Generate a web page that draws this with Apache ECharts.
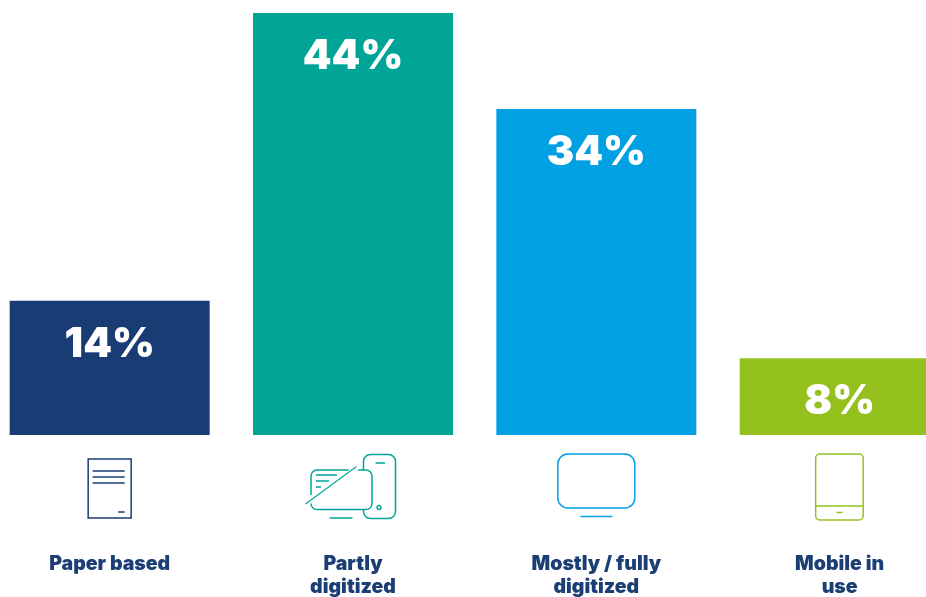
<!DOCTYPE html>
<html>
<head>
<meta charset="utf-8">
<title>Digitization levels</title>
<style>
  html, body { margin: 0; padding: 0; background: #fff; }
  #chart { width: 926px; height: 597px; overflow: hidden; }
</style>
<script src="https://cdn.jsdelivr.net/npm/echarts@6/dist/echarts.min.js"></script>
</head>
<body>
<div id="chart"></div>
<script>
const categories = ['Paper based', 'Partly\ndigitized', 'Mostly / fully\ndigitized', 'Mobile in\nuse'];
const shares = [14, 44, 34, 8];
const barColors = ['#1a3c74', '#00a597', '#00a0e3', '#95c11f'];
const textColor = '#1b3e75';
const fontFamily = 'Inter, "Noto Sans", sans-serif';

// Outline icons, in pixels relative to the bar centre and the axis baseline.
const iconParts = [
  [
    { rect: [-21.5, 24, 43, 59, 0] },
    { path: 'M-17 36H15M-17 42H15M-17 48H15M8.5 77H15' }
  ],
  [
    { path: 'M10.5 35V26.5a7 7 0 0 1 7-7H35.5a7 7 0 0 1 7 7V76.5a7 7 0 0 1-7 7H17.5a7 7 0 0 1-7-7V74' },
    { path: 'M-4.5 35H-36a6 6 0 0 0-6 6V60M-42 69V68.5a6 6 0 0 0 6 6H13a6 6 0 0 0 6-6V41a6 6 0 0 0-6-6H5' },
    { path: 'M-47.5 69L3.5 31.5', width: 1.1 },
    { path: 'M22.5 28H32M-37 40H-16M-37 46H-24M-37 52H-32M-23.5 83H-0.5' },
    { circle: [26, 72.5, 1.9] }
  ],
  [
    { rect: [-38.5, 19, 77, 54, 10] },
    { path: 'M-16 81.5H16' }
  ],
  [
    { rect: [-24, 19, 47.5, 66, 4] },
    { path: 'M-24 71H23.5M-3 77.5H3' }
  ]
];

function renderIcon(params, api) {
  const index = api.value(0);
  const origin = api.coord([index, 0]);
  const stroke = barColors[index];
  const children = iconParts[index].map(function (part) {
    const style = { fill: null, stroke: stroke, lineWidth: part.width || 1.5 };
    if (part.rect) {
      const r = part.rect;
      return { type: 'rect', shape: { x: r[0], y: r[1], width: r[2], height: r[3], r: r[4] }, style: style };
    }
    if (part.circle) {
      const c = part.circle;
      return { type: 'circle', shape: { cx: c[0], cy: c[1], r: c[2] }, style: style };
    }
    return { type: 'path', shape: { pathData: part.path }, style: style };
  });
  return { type: 'group', x: origin[0], y: origin[1], children: children };
}

const chart = echarts.init(document.getElementById('chart'), null, { renderer: 'canvas' });
chart.setOption({
  animation: false,
  backgroundColor: '#ffffff',
  grid: { left: -12, top: 13, width: 973.33, height: 422, containLabel: false, outerBoundsMode: 'none' },
  xAxis: {
    type: 'category',
    data: categories,
    axisLine: { show: false },
    axisTick: { show: false },
    splitLine: { show: false },
    axisLabel: {
      interval: 0,
      margin: 118,
      color: textColor,
      fontFamily: fontFamily,
      fontWeight: 900,
      fontSize: 19.5,
      lineHeight: 23,
      verticalAlign: 'top'
    }
  },
  yAxis: { type: 'value', min: 0, max: 44, show: false },
  series: [
    {
      type: 'bar',
      barWidth: 200,
      data: shares.map(function (v, i) {
        return { value: v, itemStyle: { color: barColors[i] } };
      }),
      label: {
        show: true,
        position: 'insideTop',
        distance: 23,
        formatter: '{c}%',
        color: '#ffffff',
        fontFamily: fontFamily,
        fontWeight: 900,
        fontSize: 41
      }
    },
    {
      type: 'custom',
      renderItem: renderIcon,
      silent: true,
      encode: { x: 0, y: 1 },
      data: categories.map(function (c, i) { return [i, 0]; })
    }
  ]
});
</script>
</body>
</html>
